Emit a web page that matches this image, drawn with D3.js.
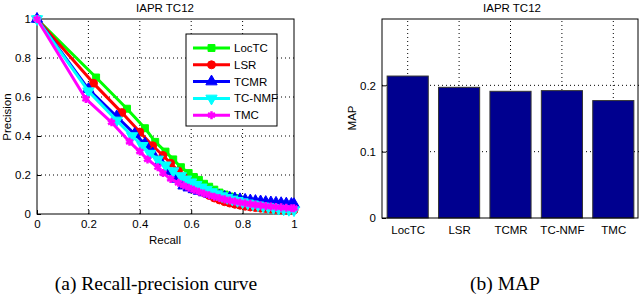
<!DOCTYPE html>
<html lang="en">
<head>
<meta charset="UTF-8">
<title>IAPR TC12</title>
<script src="https://d3js.org/d3.v7.min.js"></script>
<style>
  body { margin: 0; background: #fff; }
  svg text { font-family: "Liberation Sans", Arial, sans-serif; font-size: 11.5px; fill: #000; }
  .caption { font-family: "Liberation Serif", "DejaVu Serif", serif; font-size: 19.5px; }
  .grid line { stroke: #000; stroke-width: 1; stroke-dasharray: 1,3; }
  .axis path, .axis line { stroke: #000; }
</style>
</head>
<body>
<svg width="640" height="296"></svg>
<script>
// ---- data ----
const methods = ["LocTC", "LSR", "TCMR", "TC-NMF", "TMC"];
const colors = ["#00ff00", "#ff0000", "#0000ff", "#00ffff", "#ff00ff"];

const recallLocTC = [0, 0.23, 0.35, 0.42, 0.46, 0.50, 0.53, 0.56, 0.59, 0.61, 0.63, 0.65, 0.67, 0.69, 0.71, 0.73, 0.75, 0.77, 0.79, 0.81, 0.83, 0.85, 0.87, 0.89, 0.91, 0.93, 0.95, 0.97, 0.99, 1.0];
const precLocTC   = [1, 0.70, 0.54, 0.44, 0.37, 0.32, 0.28, 0.24, 0.21, 0.19, 0.175, 0.155, 0.14, 0.125, 0.11, 0.10, 0.09, 0.082, 0.074, 0.067, 0.06, 0.055, 0.05, 0.045, 0.041, 0.037, 0.034, 0.032, 0.03, 0.03];

const recallLSR = [0, 0.22, 0.33, 0.40, 0.45, 0.49, 0.52, 0.55, 0.57, 0.59, 0.61, 0.63, 0.65, 0.67, 0.69, 0.71, 0.73, 0.75, 0.77, 0.79, 0.81, 0.83, 0.85, 0.87, 0.89, 0.91, 0.93, 0.95, 0.97, 0.99, 1.0];
const precLSR   = [1, 0.67, 0.52, 0.42, 0.35, 0.30, 0.26, 0.22, 0.19, 0.165, 0.145, 0.125, 0.11, 0.095, 0.082, 0.072, 0.063, 0.056, 0.05, 0.045, 0.04, 0.036, 0.033, 0.03, 0.028, 0.026, 0.024, 0.022, 0.021, 0.02, 0.02];

const recallTCMR = [0, 0.20, 0.31, 0.38, 0.42, 0.45, 0.48, 0.51, 0.54, 0.57, 0.59, 0.61, 0.63, 0.65, 0.67, 0.69, 0.71, 0.73, 0.75, 0.77, 0.79, 0.81, 0.83, 0.85, 0.87, 0.89, 0.91, 0.93, 0.95, 0.97, 0.99, 1.0];
const precTCMR   = [1, 0.64, 0.50, 0.41, 0.36, 0.31, 0.27, 0.22, 0.18, 0.145, 0.135, 0.126, 0.118, 0.11, 0.103, 0.097, 0.092, 0.087, 0.083, 0.079, 0.075, 0.072, 0.069, 0.066, 0.064, 0.061, 0.059, 0.057, 0.055, 0.053, 0.051, 0.05];

const recallTCNMF = [0, 0.20, 0.31, 0.37, 0.41, 0.44, 0.47, 0.50, 0.53, 0.56, 0.58, 0.60, 0.62, 0.64, 0.66, 0.68, 0.70, 0.72, 0.74, 0.76, 0.78, 0.80, 0.82, 0.84, 0.86, 0.88, 0.90, 0.92, 0.94, 0.96, 0.98, 1.0];
const precTCNMF   = [1, 0.63, 0.48, 0.40, 0.35, 0.31, 0.28, 0.25, 0.22, 0.195, 0.178, 0.163, 0.15, 0.137, 0.125, 0.113, 0.102, 0.092, 0.083, 0.075, 0.068, 0.061, 0.055, 0.05, 0.045, 0.04, 0.036, 0.032, 0.028, 0.025, 0.022, 0.02];

const recallTMC = [0, 0.19, 0.29, 0.36, 0.40, 0.43, 0.47, 0.49, 0.52, 0.55, 0.57, 0.59, 0.61, 0.63, 0.65, 0.67, 0.69, 0.71, 0.73, 0.75, 0.77, 0.79, 0.81, 0.83, 0.85, 0.87, 0.89, 0.91, 0.93, 0.95, 0.97, 0.99, 1.0];
const precTMC   = [1, 0.59, 0.47, 0.37, 0.32, 0.28, 0.24, 0.21, 0.18, 0.16, 0.147, 0.135, 0.124, 0.114, 0.105, 0.096, 0.089, 0.082, 0.075, 0.069, 0.064, 0.059, 0.055, 0.051, 0.047, 0.044, 0.041, 0.038, 0.036, 0.034, 0.032, 0.03, 0.03];

const recallSeries = [recallLocTC, recallLSR, recallTCMR, recallTCNMF, recallTMC];
const precSeries = [precLocTC, precLSR, precTCMR, precTCNMF, precTMC];

const prTicks = [0, 0.2, 0.4, 0.6, 0.8, 1];
const mapValues = [0.214, 0.197, 0.191, 0.192, 0.177];
const mapTicks = [0, 0.1, 0.2];

const svg = d3.select("svg");

// ---------- (a) recall-precision curve ----------
const x1 = d3.scaleLinear().domain([0, 1]).range([37, 294]);
const y1 = d3.scaleLinear().domain([0, 1]).range([214, 19]);
const g1 = svg.append("g");

// grid
g1.append("g").attr("class", "grid")
  .selectAll("line").data(prTicks.slice(1, -1)).join("line")
  .attr("x1", d => x1(d)).attr("x2", d => x1(d))
  .attr("y1", y1(0)).attr("y2", y1(1));
g1.append("g").attr("class", "grid")
  .selectAll("line").data(prTicks.slice(1, -1)).join("line")
  .attr("y1", d => y1(d)).attr("y2", d => y1(d))
  .attr("x1", x1(0)).attr("x2", x1(1));

// axes (ticks pointing inwards, like matlab)
const fmt = d => d === 0 || d === 1 ? String(d) : d3.format(".1f")(d);
g1.append("g").attr("class", "axis").attr("transform", `translate(0,${y1(0)})`)
  .call(d3.axisBottom(x1).tickValues(prTicks).tickFormat(fmt).tickSize(-4).tickSizeOuter(0).tickPadding(6))
  .call(g => g.select(".domain").remove());
g1.append("g").attr("class", "axis").attr("transform", `translate(${x1(0)},0)`)
  .call(d3.axisLeft(y1).tickValues(prTicks).tickFormat(fmt).tickSize(-4).tickSizeOuter(0).tickPadding(6))
  .call(g => g.select(".domain").remove());
g1.selectAll(".axis text").attr("font-size", 11).attr("font-family", "Liberation Sans, Arial, sans-serif");

g1.append("rect")
  .attr("x", x1(0)).attr("y", y1(1))
  .attr("width", x1(1) - x1(0)).attr("height", y1(0) - y1(1))
  .attr("fill", "none").attr("stroke", "#000");

// marker shapes
const markerPath = [
  d3.symbol(d3.symbolSquare, 48)(),
  d3.symbol(d3.symbolCircle, 50)(),
  d3.symbol(d3.symbolTriangle, 55)(),
  d3.symbol(d3.symbolTriangle, 55)(),
  d3.symbol(d3.symbolAsterisk, 45)()
];
const markerRot = [0, 0, 0, 180, 0];

function drawMarker(sel, i) {
  sel.append("path")
    .attr("d", markerPath[i])
    .attr("transform", `rotate(${markerRot[i]})`)
    .attr("fill", i === 4 ? "none" : colors[i])
    .attr("stroke", colors[i])
    .attr("stroke-width", i === 4 ? 2.5 : 1);
}

const line = d3.line().x(d => x1(d[0])).y(d => y1(d[1]));
methods.forEach((m, i) => {
  const pts = recallSeries[i].map((r, k) => [r, precSeries[i][k]]);
  const s = g1.append("g");
  s.append("path").attr("d", line(pts))
    .attr("fill", "none").attr("stroke", colors[i]).attr("stroke-width", 3)
    .attr("stroke-linejoin", "round");
  s.selectAll("g.mk").data(pts).join("g").attr("class", "mk")
    .attr("transform", d => `translate(${x1(d[0])},${y1(d[1])})`)
    .each(function () { drawMarker(d3.select(this), i); });
});

// legend
const leg = g1.append("g");
leg.append("rect").attr("x", 186).attr("y", 34).attr("width", 91).attr("height", 92)
  .attr("fill", "#fff").attr("stroke", "#000");
methods.forEach((m, i) => {
  const yy = 48 + i * 16.8;
  leg.append("line").attr("x1", 193).attr("x2", 230).attr("y1", yy).attr("y2", yy)
    .attr("stroke", colors[i]).attr("stroke-width", 3);
  const mk = leg.append("g").attr("transform", `translate(211.5,${yy})`);
  drawMarker(mk, i);
  leg.append("text").attr("x", 234).attr("y", yy + 4).attr("font-size", 12).text(m);
});

// labels
g1.append("text").attr("x", 165).attr("y", 12).attr("text-anchor", "middle").attr("font-size", 12).text("IAPR TC12");
g1.append("text").attr("x", 165).attr("y", 244).attr("text-anchor", "middle").text("Recall");
g1.append("text").attr("transform", "translate(11,117) rotate(-90)").attr("text-anchor", "middle").text("Precision");

// ---------- (b) MAP bars ----------
const x2 = d3.scaleLinear().domain([0.5, 5.5]).range([382, 639]);
const y2 = d3.scaleLinear().domain([0, 0.3]).range([218, 19]);
const g2 = svg.append("g");
const cat = methods.map((m, i) => i + 1);

g2.append("g").attr("class", "grid")
  .selectAll("line").data(cat).join("line")
  .attr("x1", d => x2(d)).attr("x2", d => x2(d))
  .attr("y1", y2(0)).attr("y2", y2(0.3));
g2.append("g").attr("class", "grid")
  .selectAll("line").data(mapTicks.slice(1)).join("line")
  .attr("y1", d => y2(d)).attr("y2", d => y2(d))
  .attr("x1", x2(0.5)).attr("x2", x2(5.5));

g2.selectAll("rect.bar").data(mapValues).join("rect").attr("class", "bar")
  .attr("x", (d, i) => x2(i + 1 - 0.4))
  .attr("width", x2(0.8) - x2(0))
  .attr("y", d => y2(d))
  .attr("height", d => y2(0) - y2(d))
  .attr("fill", "#00008f").attr("stroke", "#333").attr("stroke-width", 1);

g2.append("g").attr("class", "axis xcat").attr("transform", `translate(0,${y2(0)})`)
  .call(d3.axisBottom(x2).tickValues(cat).tickFormat((d, i) => methods[i]).tickSize(0).tickPadding(8))
  .call(g => g.select(".domain").remove());
g2.append("g").attr("class", "axis").attr("transform", `translate(${x2(0.5)},0)`)
  .call(d3.axisLeft(y2).tickValues(mapTicks).tickFormat(d => d === 0 ? "0" : d3.format(".1f")(d)).tickSize(-4).tickSizeOuter(0).tickPadding(6))
  .call(g => g.select(".domain").remove());
g2.selectAll(".axis text").attr("font-size", 11.5).attr("font-family", "Liberation Sans, Arial, sans-serif");
g2.selectAll(".xcat text").attr("font-size", 12);

g2.append("rect")
  .attr("x", x2(0.5)).attr("y", y2(0.3))
  .attr("width", x2(5.5) - x2(0.5) - 1).attr("height", y2(0) - y2(0.3))
  .attr("fill", "none").attr("stroke", "#000");

g2.append("text").attr("x", 512).attr("y", 12).attr("text-anchor", "middle").attr("font-size", 12).text("IAPR TC12");
g2.append("text").attr("transform", "translate(356,118) rotate(-90)").attr("text-anchor", "middle").text("MAP");

// ---------- captions ----------
svg.append("text").attr("class", "caption").attr("x", 156).attr("y", 290).attr("text-anchor", "middle")
  .text("(a) Recall-precision curve");
svg.append("text").attr("class", "caption").attr("x", 505).attr("y", 290).attr("text-anchor", "middle")
  .text("(b) MAP");
</script>
</body>
</html>
